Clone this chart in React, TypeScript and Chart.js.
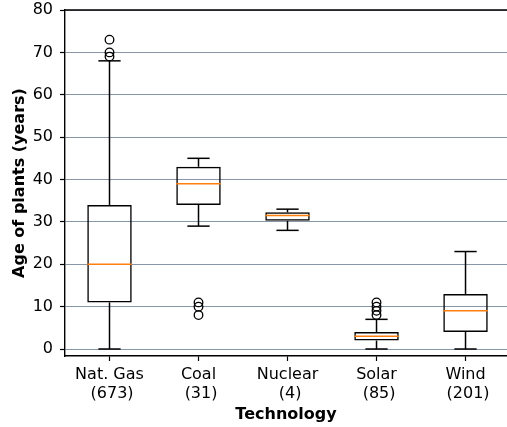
import React, { useEffect, useRef } from "react";
import { Chart, registerables } from "chart.js";

Chart.register(...registerables);

// Plant age distribution by generating technology
const technologies = ["Nat. Gas", "Coal", "Nuclear", "Solar", "Wind"];
const plantCounts = [673, 31, 4, 85, 201];
const whiskerLow = [0, 29, 28, 0, 0];
const quartile1 = [11, 34, 30.25, 2, 4];
const medians = [20, 39, 31.5, 3, 9];
const quartile3 = [34, 43, 32.25, 4, 13];
const whiskerHigh = [68, 45, 33, 7, 23];
const outliers: number[][] = [
  [69, 70, 73],
  [8, 10, 11],
  [],
  [8, 9, 10, 11],
  [],
];
const yTicks = [0, 10, 20, 30, 40, 50, 60, 70, 80];

const FONT = "'DejaVu Sans', sans-serif";
const GRID = "#8797a8";
const MEDIAN = "#ff7f0e";
const BOX_WIDTH = 0.5;
const LINE_W = 1.5;

const boxPlugin = {
  id: "boxParts",
  afterDatasetsDraw(chart: any) {
    const { ctx } = chart;
    const xs = chart.scales.x;
    const ys = chart.scales.y;
    ctx.save();
    ctx.lineWidth = LINE_W;
    ctx.lineCap = "butt";
    technologies.forEach((_, i) => {
      const pos = i + 1;
      const cx = xs.getPixelForValue(pos);
      const half = xs.getPixelForValue(pos + BOX_WIDTH / 2) - cx;
      const capHalf = half / 2;
      const line = (x1: number, y1: number, x2: number, y2: number, c: string) => {
        ctx.strokeStyle = c;
        ctx.beginPath();
        ctx.moveTo(x1, y1);
        ctx.lineTo(x2, y2);
        ctx.stroke();
      };
      const pLow = ys.getPixelForValue(whiskerLow[i]);
      const pQ1 = ys.getPixelForValue(quartile1[i]);
      const pQ3 = ys.getPixelForValue(quartile3[i]);
      const pHigh = ys.getPixelForValue(whiskerHigh[i]);
      const pMed = ys.getPixelForValue(medians[i]);
      // whiskers
      line(cx, pQ1, cx, pLow, "#000");
      line(cx, pQ3, cx, pHigh, "#000");
      // caps
      line(cx - capHalf, pLow, cx + capHalf, pLow, "#000");
      line(cx - capHalf, pHigh, cx + capHalf, pHigh, "#000");
      // median
      line(cx - half, pMed, cx + half, pMed, MEDIAN);
    });
    ctx.restore();
  },
  afterDraw(chart: any) {
    const { ctx, chartArea } = chart;
    ctx.save();
    ctx.strokeStyle = "#000";
    ctx.lineWidth = 1.4;
    ctx.beginPath();
    ctx.moveTo(chartArea.left, chartArea.top);
    ctx.lineTo(chartArea.right, chartArea.top);
    ctx.stroke();
    ctx.restore();
  },
};

export default function App() {
  const canvasRef = useRef<HTMLCanvasElement>(null);

  useEffect(() => {
    const canvas = canvasRef.current;
    if (!canvas) return;

    const boxData = technologies.map((_, i) => ({
      x: i + 1,
      y: [quartile1[i], quartile3[i]],
    }));
    const flierData = outliers.flatMap((vals, i) =>
      vals.map((v) => ({ x: i + 1, y: v }))
    );

    const chart = new Chart(canvas, {
      type: "bar",
      data: {
        datasets: [
          {
            type: "bar",
            data: boxData as any,
            backgroundColor: "rgba(0,0,0,0)",
            borderColor: "#000",
            borderWidth: LINE_W,
            borderSkipped: false,
            barPercentage: BOX_WIDTH,
            categoryPercentage: 1,
            order: 2,
          },
          {
            type: "scatter",
            data: flierData as any,
            pointStyle: "circle",
            pointRadius: 4.3,
            pointBorderWidth: 1.3,
            pointBorderColor: "#000",
            pointBackgroundColor: "rgba(0,0,0,0)",
            clip: false,
            order: 1,
          } as any,
        ],
      },
      plugins: [boxPlugin],
      options: {
        responsive: false,
        animation: false,
        devicePixelRatio: 1,
        layout: {
          autoPadding: false,
          padding: { top: 10, left: 0, right: 0, bottom: 0 },
        },
        plugins: {
          legend: { display: false },
          tooltip: { enabled: false },
        },
        scales: {
          x: {
            type: "linear",
            offset: false,
            min: 0.5,
            max: 5.466,
            afterBuildTicks: (scale: any) => {
              scale.ticks = technologies.map((_, i) => ({ value: i + 1 }));
            },
            afterFit: (scale: any) => {
              scale.height = 71;
              scale.paddingLeft = 0;
              scale.paddingRight = 0;
            },
            ticks: {
              color: "#000",
              font: { family: FONT, size: 16, lineHeight: 1.15 },
              padding: 4.8,
              maxRotation: 0,
              autoSkip: false,
              callback: (v: any) => {
                const i = Math.round(Number(v)) - 1;
                return [technologies[i], ` (${plantCounts[i]})`];
              },
            },
            grid: {
              offset: false,
              drawOnChartArea: false,
              tickColor: "#000",
              tickLength: 5,
              tickWidth: 1.2,
            },
            border: { display: true, color: "#000", width: 1.4 },
            title: {
              display: true,
              text: "Technology",
              color: "#000",
              font: { family: FONT, size: 16, weight: "bold" },
              padding: { top: 0, bottom: 2.4 },
            },
          },
          y: {
            type: "linear",
            min: -1.65,
            max: 80,
            afterBuildTicks: (scale: any) => {
              scale.ticks = yTicks.map((v) => ({ value: v }));
            },
            afterFit: (scale: any) => {
              scale.width = 65;
              scale.paddingTop = 0;
              scale.paddingBottom = 0;
            },
            ticks: {
              color: "#000",
              font: { family: FONT, size: 16 },
              padding: 7,
            },
            grid: {
              color: GRID,
              lineWidth: 1,
              tickColor: "#000",
              tickLength: 5,
              tickWidth: 1.2,
            },
            border: { display: true, color: "#000", width: 1.4 },
            title: {
              display: true,
              text: "Age of plants (years)",
              color: "#000",
              font: { family: FONT, size: 16, weight: "bold" },
              padding: { top: 10.4, bottom: 0 },
            },
          },
        },
      },
    });

    return () => chart.destroy();
  }, []);

  return (
    <div
      style={{
        position: "absolute",
        left: 0,
        top: 0,
        width: 507,
        height: 427,
        background: "#fff",
        overflow: "hidden",
      }}
    >
      <canvas ref={canvasRef} width={507} height={427} />
    </div>
  );
}
